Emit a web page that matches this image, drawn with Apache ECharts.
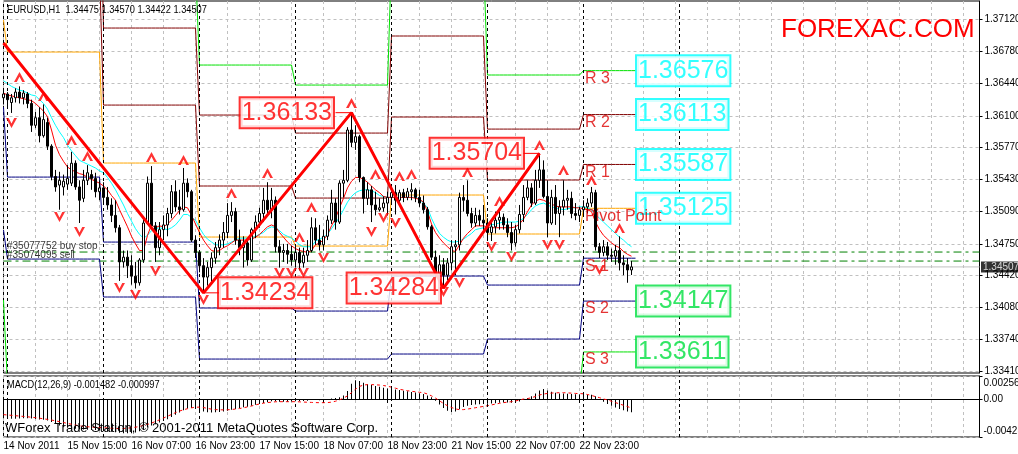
<!DOCTYPE html>
<html><head><meta charset="utf-8">
<script src="https://cdn.jsdelivr.net/npm/echarts@6.0.0/dist/echarts.min.js"></script>
<style>html,body{margin:0;padding:0;background:#fff}#c{width:1018px;height:454px}</style>
</head><body><div id="c"></div>
<script>
// ---------------- DATA ----------------
const N_SLOTS = 245;               // hourly slots shown on the time axis (incl. empty future)
const X_LABEL_STEP = 16;
const xTickLabels = ['14 Nov 2011','15 Nov 15:00','16 Nov 07:00','16 Nov 23:00','17 Nov 15:00','18 Nov 07:00','18 Nov 23:00','21 Nov 15:00','22 Nov 07:00','22 Nov 23:00'];
const priceTicks = [1.37120,1.36780,1.36440,1.36100,1.35770,1.35430,1.35090,1.34750,1.34420,1.34080,1.33740,1.33410];
const macdTicks = [0.00256, 0, -0.00423];
const daySeparators = [1,25,49,73,97,121,145,169];

const open = [1.3629,1.3633,1.3624,1.3629,1.3635,1.3629,1.3633,1.3623,1.3600,1.3608,
1.3589,1.3603,1.3578,1.3546,1.3537,1.3535,1.3538,1.3539,1.3560,1.3535,
1.3523,1.3542,1.3548,1.3544,1.3530,1.3534,1.3524,1.3516,1.3505,1.3492,
1.3456,1.3461,1.3452,1.3441,1.3434,1.3458,1.3497,1.3539,1.3494,1.3471,
1.3490,1.3495,1.3507,1.3530,1.3514,1.3511,1.3539,1.3530,1.3479,1.3466,
1.3452,1.3440,1.3450,1.3460,1.3471,1.3479,1.3487,1.3505,1.3509,1.3479,
1.3471,1.3476,1.3458,1.3490,1.3498,1.3507,1.3521,1.3511,1.3521,1.3472,
1.3466,1.3468,1.3464,1.3458,1.3466,1.3455,1.3463,1.3468,1.3492,1.3479,
1.3474,1.3483,1.3500,1.3518,1.3498,1.3539,1.3542,1.3595,1.3582,1.3588,
1.3545,1.3523,1.3532,1.3516,1.3511,1.3513,1.3518,1.3524,1.3529,1.3521,
1.3529,1.3524,1.3530,1.3532,1.3524,1.3518,1.3511,1.3493,1.3461,1.3444,
1.3453,1.3442,1.3455,1.3472,1.3474,1.3524,1.3521,1.3507,1.3497,1.3505,
1.3500,1.3497,1.3487,1.3493,1.3500,1.3503,1.3495,1.3487,1.3476,1.3490,
1.3506,1.3524,1.3534,1.3518,1.3542,1.3553,1.3525,1.3497,1.3524,1.3507,
1.3514,1.3521,1.3523,1.3507,1.3505,1.3511,1.3514,1.3518,1.3529,1.3472,
1.3466,1.3472,1.3463,1.3462,1.3468,1.3455,1.3453,1.34475];
const high = [1.3637,1.3635,1.3633,1.3639,1.3641,1.3637,1.3635,1.3627,1.3614,1.3619,
1.3622,1.3608,1.3580,1.3553,1.3551,1.3548,1.3558,1.3572,1.3563,1.3542,
1.3553,1.3558,1.3553,1.3550,1.3542,1.3540,1.3535,1.3523,1.3521,1.3495,
1.3468,1.3468,1.3463,1.3456,1.3460,1.3502,1.3546,1.3557,1.3498,1.3498,
1.3505,1.3513,1.3537,1.3542,1.3532,1.3555,1.3544,1.3532,1.3484,1.3468,
1.3460,1.3456,1.3466,1.3477,1.3485,1.3498,1.3518,1.3519,1.3513,1.3490,
1.3483,1.3479,1.3492,1.3505,1.3513,1.3534,1.3540,1.3534,1.3525,1.3479,
1.3475,1.3475,1.3473,1.3474,1.3471,1.3471,1.3479,1.3503,1.3502,1.3495,
1.3490,1.3505,1.3532,1.3523,1.3542,1.3553,1.3598,1.36133,1.3600,1.3590,
1.3546,1.3540,1.3536,1.3530,1.3523,1.3525,1.3530,1.3536,1.3537,1.3532,
1.3533,1.3534,1.3539,1.3534,1.3532,1.3526,1.3514,1.3495,1.3468,1.3463,
1.3460,1.3460,1.3479,1.3479,1.3529,1.3537,1.3542,1.3513,1.3513,1.3511,
1.3516,1.3502,1.3500,1.3509,1.3512,1.3507,1.3502,1.3498,1.3495,1.3516,
1.3537,1.3542,1.3539,1.3553,1.35704,1.3563,1.3542,1.3532,1.3537,1.3521,
1.3542,1.3532,1.3530,1.3518,1.3514,1.3521,1.3523,1.3535,1.3532,1.3476,
1.3479,1.3477,1.3470,1.3474,1.3483,1.3463,1.3460,1.34570];
const low = [1.3622,1.3620,1.3613,1.3624,1.3623,1.3622,1.3618,1.3593,1.3597,1.3582,
1.3587,1.3574,1.3542,1.3530,1.3511,1.3526,1.3532,1.3536,1.3532,1.3497,
1.3519,1.3537,1.3532,1.3524,1.3521,1.3516,1.3511,1.3498,1.3487,1.3436,
1.3450,1.3439,1.3432,1.3428,1.3431,1.3455,1.3495,1.3490,1.3456,1.3463,
1.3479,1.3483,1.3502,1.3509,1.3506,1.3509,1.3524,1.3477,1.3460,1.3445,
1.34234,1.3431,1.3435,1.3454,1.3463,1.3471,1.3481,1.3498,1.3474,1.3463,
1.3450,1.3452,1.3456,1.3481,1.3492,1.3498,1.3505,1.3502,1.3466,1.3450,
1.3456,1.3454,1.3452,1.3450,1.3447,1.3450,1.3456,1.3466,1.3474,1.3468,
1.3468,1.3479,1.3496,1.3490,1.3496,1.3524,1.3540,1.3577,1.3574,1.3540,
1.3507,1.3516,1.3498,1.3505,1.3509,1.3509,1.3505,1.3518,1.3506,1.3518,
1.3519,1.3521,1.3521,1.3519,1.3514,1.3507,1.3490,1.3458,1.3437,1.3439,
1.34284,1.3437,1.3447,1.3442,1.3468,1.3509,1.3504,1.3492,1.3493,1.3494,
1.3487,1.3479,1.3478,1.3486,1.3490,1.3490,1.3482,1.3468,1.3472,1.3486,
1.3498,1.3521,1.3514,1.3516,1.3534,1.3523,1.3482,1.3495,1.3495,1.3482,
1.3505,1.3511,1.3502,1.3500,1.3498,1.3505,1.3507,1.3514,1.3468,1.3460,
1.3462,1.3458,1.3456,1.3453,1.3447,1.3442,1.3434,1.34422];
const close = [1.3633,1.3627,1.3629,1.3635,1.3629,1.3634,1.3623,1.3600,1.3608,1.3589,
1.3606,1.3578,1.3546,1.3535,1.3542,1.3541,1.3544,1.3560,1.3535,1.3521,
1.3542,1.3550,1.3544,1.3530,1.3534,1.3524,1.3516,1.3505,1.3492,1.3456,
1.3461,1.3452,1.3441,1.3434,1.3458,1.3497,1.3539,1.3494,1.3471,1.3490,
1.3495,1.3507,1.3530,1.3514,1.3511,1.3539,1.3530,1.3479,1.3466,1.3452,
1.3440,1.3450,1.3460,1.3471,1.3479,1.3487,1.3505,1.3509,1.3479,1.3471,
1.3476,1.3458,1.3490,1.3498,1.3507,1.3521,1.3511,1.3521,1.3472,1.3466,
1.3468,1.3464,1.3458,1.3466,1.3455,1.3463,1.3468,1.3492,1.3479,1.3474,
1.3483,1.3500,1.3518,1.3498,1.3539,1.3542,1.3595,1.3582,1.3588,1.3545,
1.3523,1.3532,1.3516,1.3511,1.3513,1.3518,1.3524,1.3529,1.3521,1.3529,
1.3524,1.3530,1.3532,1.3524,1.3518,1.3511,1.3493,1.3461,1.3444,1.3453,
1.3442,1.3455,1.3472,1.3474,1.3524,1.3521,1.3507,1.3497,1.3505,1.3500,
1.3497,1.3487,1.3493,1.3500,1.3503,1.3495,1.3487,1.3476,1.3490,1.3506,
1.3524,1.3534,1.3518,1.3542,1.3553,1.3525,1.3497,1.3524,1.3507,1.3514,
1.3521,1.3523,1.3507,1.3505,1.3511,1.3514,1.3518,1.3529,1.3472,1.3466,
1.3472,1.3463,1.3462,1.3468,1.3455,1.3453,1.34475,1.34507];

const maFast = [1.3634,1.3632,1.3631,1.3630,1.3629,1.3628,1.3627,1.3626,1.3623,1.3619,
1.3615,1.3609,1.3595,1.3579,1.3569,1.3562,1.3556,1.3553,1.3551,1.3549,
1.3548,1.3545,1.3543,1.3541,1.3539,1.3536,1.3532,1.3526,1.3521,1.3511,
1.3502,1.3493,1.3483,1.3475,1.3468,1.3468,1.3484,1.3495,1.3492,1.3494,
1.3493,1.3496,1.3500,1.3505,1.3510,1.3514,1.3513,1.3505,1.3496,1.3487,
1.3479,1.3473,1.3468,1.3467,1.3468,1.3471,1.3473,1.3476,1.3479,1.3479,
1.3479,1.3479,1.3480,1.3482,1.3485,1.3489,1.3493,1.3495,1.3493,1.3487,
1.3482,1.3477,1.3473,1.3470,1.3468,1.3467,1.3466,1.3468,1.3474,1.3476,
1.3479,1.3485,1.3494,1.3502,1.3513,1.3523,1.3534,1.3541,1.3545,1.3545,
1.3543,1.3540,1.3536,1.3532,1.3529,1.3525,1.3524,1.3524,1.3524,1.3524,
1.3524,1.3524,1.3524,1.3523,1.3522,1.3519,1.3509,1.3496,1.3487,1.3481,
1.3476,1.3472,1.3468,1.3467,1.3474,1.3481,1.3486,1.3490,1.3494,1.3494,
1.3494,1.3493,1.3492,1.3492,1.3492,1.3492,1.3492,1.3492,1.3493,1.3496,
1.3501,1.3509,1.3516,1.3520,1.3522,1.3521,1.3519,1.3517,1.3515,1.3514,
1.3514,1.3514,1.3514,1.3513,1.3513,1.3512,1.3511,1.3509,1.3498,1.3490,
1.3484,1.3480,1.3476,1.3473,1.3471,1.3467,1.3464,1.3462];
const maSlow = [1.3647,1.3644,1.3641,1.3639,1.3637,1.3636,1.3634,1.3632,1.3631,1.3627,
1.3623,1.3617,1.3608,1.3600,1.3593,1.3587,1.3579,1.3573,1.3568,1.3563,
1.3561,1.3559,1.3557,1.3555,1.3552,1.3550,1.3545,1.3539,1.3532,1.3524,
1.3516,1.3507,1.3499,1.3491,1.3485,1.3481,1.3484,1.3489,1.3491,1.3492,
1.3491,1.3490,1.3492,1.3495,1.3500,1.3506,1.3506,1.3503,1.3500,1.3492,
1.3485,1.3480,1.3477,1.3474,1.3474,1.3474,1.3475,1.3477,1.3479,1.3481,
1.3481,1.3481,1.3481,1.3483,1.3485,1.3487,1.3491,1.3493,1.3492,1.3489,
1.3485,1.3483,1.3481,1.3478,1.3474,1.3472,1.3472,1.3472,1.3478,1.3480,
1.3482,1.3485,1.3491,1.3497,1.3503,1.3511,1.3519,1.3525,1.3529,1.3531,
1.3532,1.3532,1.3531,1.3529,1.3526,1.3525,1.3524,1.3524,1.3524,1.3524,
1.3524,1.3524,1.3524,1.3524,1.3522,1.3518,1.3513,1.3502,1.3493,1.3486,
1.3482,1.3479,1.3477,1.3477,1.3478,1.3480,1.3483,1.3486,1.3490,1.3491,
1.3492,1.3494,1.3495,1.3496,1.3497,1.3498,1.3498,1.3498,1.3498,1.3499,
1.3502,1.3506,1.3511,1.3515,1.3517,1.3518,1.3516,1.3514,1.3513,1.3512,
1.3511,1.3512,1.3513,1.3513,1.3514,1.3514,1.3513,1.3511,1.3506,1.3502,
1.3498,1.3494,1.3490,1.3486,1.3482,1.3479,1.3475,1.3472];

const macdMain = [-0.00215,-0.00218,-0.00220,-0.00220,-0.00218,-0.00215,-0.00214,-0.00216,-0.00222,-0.00228,
-0.00232,-0.00240,-0.00255,-0.00275,-0.00295,-0.00310,-0.00320,-0.00328,-0.00332,-0.00338,
-0.00340,-0.00342,-0.00344,-0.00346,-0.00350,-0.00355,-0.00360,-0.00365,-0.00370,-0.00375,
-0.00380,-0.00382,-0.00380,-0.00372,-0.00360,-0.00345,-0.00318,-0.00295,-0.00280,-0.00262,
-0.00245,-0.00225,-0.00200,-0.00175,-0.00150,-0.00125,-0.00105,-0.00100,-0.00110,-0.00125,
-0.00140,-0.00148,-0.00150,-0.00148,-0.00145,-0.00138,-0.00130,-0.00120,-0.00110,-0.00100,
-0.00092,-0.00085,-0.00075,-0.00065,-0.00055,-0.00045,-0.00035,-0.00025,-0.00025,-0.00030,
-0.00032,-0.00030,-0.00028,-0.00025,-0.00025,-0.00022,-0.00020,-0.00010,-0.00012,-0.00015,
-0.00012,-0.00005,0.00005,0.00010,0.00020,0.00040,0.00090,0.00170,0.00210,0.00200,
0.00180,0.00165,0.00155,0.00145,0.00135,0.00125,0.00118,0.00112,0.00105,0.00100,
0.00092,0.00085,0.00078,0.00072,0.00065,0.00055,0.00040,0.00020,-0.00020,-0.00060,
-0.00100,-0.00130,-0.00145,-0.00140,-0.00115,-0.00090,-0.00075,-0.00068,-0.00062,-0.00058,
-0.00055,-0.00052,-0.00050,-0.00046,-0.00042,-0.00040,-0.00040,-0.00042,-0.00038,-0.00028,
-0.00012,0.00010,0.00030,0.00060,0.00095,0.00110,0.00095,0.00080,0.00070,0.00062,
0.00060,0.00058,0.00055,0.00052,0.00050,0.00048,0.00046,0.00048,0.00030,0.00000,
-0.00030,-0.00055,-0.00075,-0.00095,-0.00110,-0.00125,-0.00138,-0.001482];
const macdSignal = [-0.00174,-0.00178,-0.00182,-0.00186,-0.00190,-0.00194,-0.00198,-0.00203,-0.00208,-0.00214,
-0.00220,-0.00227,-0.00234,-0.00243,-0.00252,-0.00262,-0.00272,-0.00281,-0.00290,-0.00298,
-0.00305,-0.00309,-0.00313,-0.00316,-0.00318,-0.00320,-0.00323,-0.00326,-0.00328,-0.00329,
-0.00328,-0.00325,-0.00320,-0.00314,-0.00305,-0.00295,-0.00283,-0.00268,-0.00250,-0.00232,
-0.00212,-0.00192,-0.00172,-0.00152,-0.00134,-0.00120,-0.00108,-0.00098,-0.00092,-0.00090,
-0.00095,-0.00105,-0.00113,-0.00118,-0.00120,-0.00121,-0.00120,-0.00117,-0.00112,-0.00106,
-0.00098,-0.00088,-0.00078,-0.00066,-0.00055,-0.00046,-0.00040,-0.00035,-0.00031,-0.00030,
-0.00030,-0.00030,-0.00030,-0.00030,-0.00032,-0.00034,-0.00036,-0.00038,-0.00040,-0.00041,
-0.00041,-0.00040,-0.00035,-0.00025,-0.00010,0.00010,0.00035,0.00070,0.00110,0.00140,
0.00155,0.00160,0.00160,0.00158,0.00155,0.00150,0.00142,0.00132,0.00120,0.00108,
0.00100,0.00092,0.00086,0.00080,0.00075,0.00070,0.00055,0.00035,0.00010,-0.00020,
-0.00050,-0.00075,-0.00095,-0.00110,-0.00119,-0.00118,-0.00112,-0.00105,-0.00097,-0.00090,
-0.00082,-0.00075,-0.00066,-0.00057,-0.00048,-0.00041,-0.00035,-0.00030,-0.00022,-0.00012,
0.00000,0.00005,0.00014,0.00028,0.00045,0.00055,0.00062,0.00066,0.00068,0.00070,
0.00070,0.00068,0.00065,0.00062,0.00060,0.00058,0.00050,0.00040,0.00026,0.00015,
0.00000,-0.00010,-0.00025,-0.00040,-0.00055,-0.00070,-0.00085,-0.000997];

// daily pivot levels (14 Nov .. 23 Nov), day start bar indices
const dayStart = [0,1,25,49,73,97,121,145];
const PIVOT_LAST_BAR = 158;
const pivR3 = [1.39428,1.39818,1.37657,1.36635,1.36424,1.37763,1.36530,1.36576];
const pivR2 = [1.38585,1.38954,1.37025,1.36108,1.35918,1.36941,1.35960,1.36113];
const pivR1 = [1.37742,1.37636,1.36213,1.35360,1.35233,1.36087,1.35423,1.35587];
const pivP  = [1.37109,1.36772,1.35602,1.34822,1.34727,1.35265,1.34854,1.35125];
const pivS1 = [1.36192,1.35454,1.34769,1.34074,1.34042,1.34411,1.34316,1.34599];
const pivS2 = [1.34896,1.34590,1.34190,1.33536,1.33536,1.33589,1.33747,1.34147];
const pivS3 = [1.34158,1.33273,1.33325,1.32788,1.32851,1.32735,1.33209,1.33611];
const pivotNames = ['R 3','R 2','R 1','Pivot Point','S 1','S 2','S 3'];

const zigzag = [[0,1.36867],[50,1.34234],[87,1.36133],[110,1.34284],[134,1.35704]];
const fractalUp = [[4,1.36508],[10,1.36308],[17,1.35844],[21,1.35676],[37,1.35665],[45,1.35634],[57,1.35286],[66,1.35497],[74,1.34822],[77,1.35138],[87,1.36234],[93,1.35486],[99,1.35465],[102,1.35486],[116,1.35507],[124,1.35202],[134,1.35792],[140,1.35528],[147,1.35423],[154,1.34917]];
const fractalDown = [[2,1.36024],[14,1.35033],[19,1.34875],[29,1.34285],[33,1.34211],[38,1.34464],[50,1.34158],[69,1.34443],[72,1.34443],[75,1.34443],[80,1.34601],[92,1.34875],[95,1.35022],[98,1.34970],[110,1.34242],[114,1.34337],[122,1.34717],[127,1.34611],[136,1.34738],[139,1.34738],[149,1.34474]];
const orderNames = ['#35077752 buy stop','#35074095 sell'];
const orderPrices = [1.34664,1.34569];

// ---------------- CHART ----------------
const Y_MIN = 1.33389, Y_MAX = 1.37310;
const SLOT_PX = 4;  // pixels per hourly slot (976px / 244 steps)
const FONT_UI = "'Liberation Sans',Arial,sans-serif";
const FONT_BIG = "'Liberation Sans',Arial,sans-serif";
const cats = Array.from({length: N_SLOTS}, (_, i) => i);
const last = close.length - 1;
const bid = close[last];
const lastSlot = N_SLOTS - 1;

function stepLine(levels) {
  const out = [];
  for (let i = 0; i <= PIVOT_LAST_BAR; i++) {
    let d = 0;
    for (let k = 0; k < dayStart.length; k++) if (i >= dayStart[k]) d = k;
    out.push(levels[d]);
  }
  return out;
}
const GRID_LINE = {color: '#c0c0c0', type: [3, 3], width: 1};
const labelInterval = (i) => i % X_LABEL_STEP === 0 && i / X_LABEL_STEP < xTickLabels.length;
const HIDDEN_PT = {symbolSize: 1, itemStyle: {color: 'rgba(0,0,0,0)'}, silent: true};

const pivotDefs = [
  [pivR3, '#00e000'], [pivR2, '#800000'], [pivR1, '#800000'], [pivP, '#ffa500'],
  [pivS1, '#000080'], [pivS2, '#000080'], [pivS3, '#00e000']
];

const series = [];
// day separators
[0, 1].forEach(g => series.push({
  type: 'line', xAxisIndex: g, yAxisIndex: g, data: [], silent: true, z: 1,
  markLine: {silent: true, symbol: ['none', 'none'], animation: false, label: {show: false},
    lineStyle: {color: '#000', type: [3, 3], width: 1},
    data: daySeparators.map(i => ({xAxis: i}))}
}));
// bid line
series.push({type: 'line', data: [[0, bid], [lastSlot, bid]], symbol: 'none', silent: true, z: 2,
  lineStyle: {color: '#c0c0c0', width: 1}});
series.push(Object.assign({type: 'scatter', z: 30, data: [[lastSlot, bid]],
  label: {show: true, position: 'right', distance: 1, formatter: d => d.value[1].toFixed(5), color: '#fff', backgroundColor: '#000',
    padding: [1, 3, 0, 2], fontSize: 10, fontFamily: FONT_UI}}, HIDDEN_PT));
// order lines
orderPrices.forEach((p, k) => series.push({type: 'line', data: [[0, p], [lastSlot, p]], symbol: 'none', silent: true, z: 2,
  lineStyle: {color: '#008000', width: 1, type: [8, 4, 3, 4]}}));
series.push(Object.assign({type: 'scatter', z: 8,
  data: orderPrices.map((p, k) => ({value: [0, p], name: orderNames[k]})),
  label: {show: true, position: 'right', distance: 3, offset: [0, -6], formatter: d => d.name, color: '#000', fontSize: 10, fontFamily: FONT_UI}}, HIDDEN_PT));
// pivot step lines
pivotDefs.forEach(([lv, col]) => series.push({
  type: 'line', data: stepLine(lv), symbol: 'none', silent: true, z: 3,
  lineStyle: {color: col, width: 1}
}));
// moving averages
series.push({type: 'line', data: maSlow, symbol: 'none', z: 4, silent: true, lineStyle: {color: '#00ffff', width: 1}});
series.push({type: 'line', data: maFast, symbol: 'none', z: 4, silent: true, lineStyle: {color: '#ff0000', width: 1}});
// candles
series.push({
  type: 'candlestick', z: 5, barWidth: 3, silent: true,
  data: open.map((o, i) => [o, close[i], low[i], high[i]]),
  itemStyle: {color: '#ffffff', color0: '#000000', borderColor: '#000000', borderColor0: '#000000', borderWidth: 1}
});
// zigzag
series.push({type: 'line', data: zigzag, symbol: 'none', z: 6, silent: true, lineStyle: {color: '#ff0000', width: 3}});
// fractals
series.push({type: 'scatter', data: fractalUp, z: 7, silent: true, symbol: 'path://M6,0L12,11L9,11L6,5L3,11L0,11Z', symbolSize: [11, 10], itemStyle: {color: '#ff0000'}});
series.push({type: 'scatter', data: fractalDown, z: 7, silent: true, symbol: 'path://M6,11L12,0L9,0L6,6L3,0L0,0Z', symbolSize: [11, 10], itemStyle: {color: '#ff0000'}});
// zigzag value boxes + leader lines
const zzPos = [['right', 15], ['left', 18], ['left', 3], ['left', 16]];
zigzag.slice(1).forEach((p, k) => {
  const dir = zzPos[k][0] === 'right' ? 1 : -1;
  series.push({type: 'line', data: [p, [p[0] + dir * zzPos[k][1] / SLOT_PX, p[1]]], symbol: 'none', silent: true, z: 19,
    lineStyle: {color: '#ff0000', width: 1}});
});
series.push(Object.assign({
  type: 'scatter', z: 20,
  data: zigzag.slice(1).map((p, k) => ({value: p, label: {position: zzPos[k][0], distance: zzPos[k][1]}})),
  label: {show: true, formatter: d => d.value[1].toFixed(5), fontSize: 25, fontFamily: FONT_BIG, color: '#ff0000',
    backgroundColor: '#fff', borderColor: '#ff0000', borderWidth: 2, padding: [3, 1, 1, 1]}
}, HIDDEN_PT));
// pivot value boxes
const lastDay = dayStart.length - 1;
const pivLevelsToday = [pivR3, pivR2, pivR1, pivP, pivS1, pivS2, pivS3].map(a => a[lastDay]);
const boxIdx = [0, 1, 2, 3, 5, 6];
series.push(Object.assign({
  type: 'scatter', z: 20,
  data: boxIdx.map(k => {
    const col = k <= 3 ? '#00ffff' : '#00e040';
    return {value: [PIVOT_LAST_BAR, pivLevelsToday[k]], label: {color: col, borderColor: col}};
  }),
  label: {show: true, position: 'right', distance: 1, formatter: d => d.value[1].toFixed(5), fontSize: 25, fontFamily: FONT_BIG,
    backgroundColor: '#fff', borderWidth: 2, padding: [3, 1, 1, 1]}
}, HIDDEN_PT));
// pivot names (drawn above the boxes)
series.push(Object.assign({
  type: 'scatter', z: 22,
  data: pivLevelsToday.map((v, k) => ({value: [dayStart[lastDay], v], name: pivotNames[k]})),
  label: {show: true, position: 'right', distance: 1, offset: [0, 8], formatter: d => d.name, fontSize: 16, fontFamily: FONT_BIG, color: '#dd0000'}
}, HIDDEN_PT));
// MACD
series.push({type: 'bar', xAxisIndex: 1, yAxisIndex: 1, data: macdMain, barWidth: 1, silent: true, itemStyle: {color: '#000'}, z: 3});
series.push({type: 'line', xAxisIndex: 1, yAxisIndex: 1, data: macdSignal, symbol: 'none', silent: true, z: 4, lineStyle: {color: '#ff0000', width: 1, type: [3, 3]}});

const option = {
  animation: false,
  backgroundColor: '#ffffff',
  grid: [
    {left: 3.5, top: 1, width: 976, height: 372, show: true, borderColor: '#000', borderWidth: 1, outerBoundsMode: 'none', containLabel: false},
    {left: 3.5, top: 376, width: 976, height: 61, show: true, borderColor: '#000', borderWidth: 1, outerBoundsMode: 'none', containLabel: false}
  ],
  xAxis: [
    {gridIndex: 0, type: 'category', data: cats, boundaryGap: false, axisLine: {show: false}, axisTick: {show: false}, axisLabel: {show: false},
      splitLine: {show: true, interval: (i) => i % 8 === 0, lineStyle: GRID_LINE}},
    {gridIndex: 1, type: 'category', data: cats, boundaryGap: false,
      axisLine: {show: true, lineStyle: {color: '#000'}},
      axisTick: {show: true, interval: labelInterval, length: 4, lineStyle: {color: '#000'}},
      axisLabel: {interval: labelInterval, showMinLabel: true, showMaxLabel: true, hideOverlap: false,
        formatter: (v, i) => xTickLabels[Math.round(Number(v) / X_LABEL_STEP)] || '', align: 'left', margin: 4, fontSize: 10, color: '#000', fontFamily: FONT_UI},
      splitLine: {show: true, interval: (i) => i % 8 === 0, lineStyle: GRID_LINE}}
  ],
  yAxis: [
    {gridIndex: 0, type: 'value', position: 'right', min: Y_MIN, max: Y_MAX, scale: true,
      axisLine: {show: true, lineStyle: {color: '#000'}},
      axisTick: {show: true, customValues: priceTicks, length: 3, lineStyle: {color: '#000'}},
      axisLabel: {customValues: priceTicks, formatter: v => v.toFixed(5), margin: 5, fontSize: 10, color: '#000', fontFamily: FONT_UI},
      splitLine: {show: true, lineStyle: GRID_LINE}},
    {gridIndex: 1, type: 'value', position: 'right', min: -0.00423, max: 0.00256,
      axisLine: {show: true, lineStyle: {color: '#000'}},
      axisTick: {show: true, customValues: macdTicks, length: 3, lineStyle: {color: '#000'}},
      axisLabel: {customValues: macdTicks, margin: 4,
        formatter: v => v > 0 ? '{t|' + v.toFixed(5) + '}' : (v < 0 ? '{b|' + v.toFixed(5) + '}' : '{m|0.00}'),
        rich: {
          t: {padding: [14, 0, 0, 0], fontSize: 10, color: '#000', fontFamily: FONT_UI},
          b: {padding: [0, 0, 12, 0], fontSize: 10, color: '#000', fontFamily: FONT_UI},
          m: {fontSize: 10, color: '#000', fontFamily: FONT_UI}
        }},
      splitLine: {show: true, lineStyle: GRID_LINE}}
  ],
  graphic: [
    {type: 'text', left: 7, top: 4, z: 100, scaleX: 0.84, style: {text: 'EURUSD,H1  ' + [open[last], high[last], low[last], close[last]].map(v => v.toFixed(5)).join(' '), fill: '#000', font: '11px ' + FONT_UI}},
    {type: 'text', left: 781, top: 17, z: 100, style: {text: 'FOREXAC.COM', fill: '#ff0000', font: '26px ' + FONT_BIG}},
    {type: 'text', left: 7, top: 379, z: 100, scaleX: 0.84, style: {text: 'MACD(12,26,9) ' + macdMain[last].toFixed(6) + ' ' + macdSignal[last].toFixed(6), fill: '#000', font: '11px ' + FONT_UI}},
    {type: 'text', left: 5, top: 422, z: 100, style: {text: 'WForex Trade Station, \u00a9 2001-2011 MetaQuotes Software Corp.', fill: '#000', font: '13px ' + FONT_BIG}}
  ],
  series: series
};
option.series.forEach(s => { if (s.xAxisIndex === undefined) { s.xAxisIndex = 0; s.yAxisIndex = 0; } });

const chart = echarts.init(document.getElementById('c'), null, {renderer: 'canvas'});
chart.setOption(option);
</script>
</body></html>
